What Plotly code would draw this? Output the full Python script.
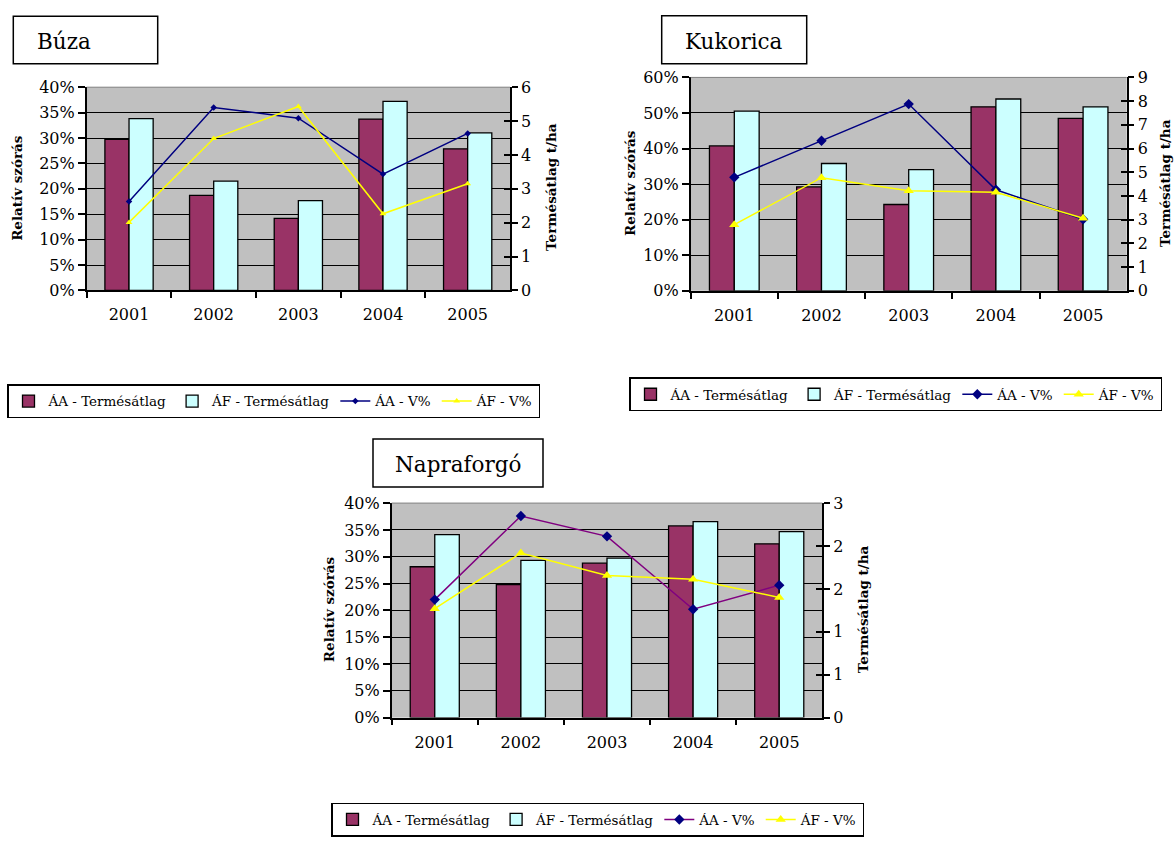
import plotly.graph_objects as go

W, H = 1176, 841

# ---- data -------------------------------------------------------------
years = ["2001", "2002", "2003", "2004", "2005"]

series_names = ["ÁA - Termésátlag", "ÁF - Termésátlag", "ÁA - V%", "ÁF - V%"]

# Búza (wheat): yields in t/ha, relative deviation in %
buza_aa_yield = [4.46, 2.81, 2.13, 5.06, 4.18]
buza_af_yield = [5.07, 3.23, 2.65, 5.58, 4.65]
buza_aa_v = [17.5, 36.0, 33.9, 22.9, 30.9]
buza_af_v = [13.4, 29.9, 36.2, 15.1, 21.0]

# Kukorica (maize)
kuk_aa_yield = [6.11, 4.38, 3.64, 7.76, 7.27]
kuk_af_yield = [7.58, 5.37, 5.11, 8.09, 7.76]
kuk_aa_v = [31.9, 42.2, 52.5, 28.4, 20.1]
kuk_af_v = [18.6, 31.8, 28.1, 27.7, 20.4]

# Napraforgó (sunflower)
nap_aa_yield = [2.11, 1.86, 2.16, 2.68, 2.43]
nap_af_yield = [2.56, 2.20, 2.23, 2.74, 2.60]
nap_aa_v = [22.0, 37.6, 33.8, 20.2, 24.7]
nap_af_v = [20.3, 30.7, 26.5, 25.8, 22.4]

# ---- styling ------------------------------------------------------------
SERIF = "DejaVu Serif"
AA_BAR = "#993366"
AF_BAR = "#CCFFFF"
NAVY = "#000080"
YELLOW = "#FFFF00"
PURPLE = "#800080"
PLOT_BG = "#C0C0C0"


def px(x):
    return x / W


def py(y):
    return 1 - y / H


panels = [
    dict(title="Búza", aa_y=buza_aa_yield, af_y=buza_af_yield,
         aa_v=buza_aa_v, af_v=buza_af_v,
         box=(13.3, 7.3, 157.7, 56), title_x=35, title_anchor="left", title_y=33,
         area=(86.7, 80, 510, 288), pct=(40, 5), t=(6, 1, ""),
         aa_line=NAVY, msize=(5, 6),
         left_title=(17, 183), right_title=(551, 182),
         legend=(7, 384)),
    dict(title="Kukorica", aa_y=kuk_aa_yield, af_y=kuk_af_yield,
         aa_v=kuk_aa_v, af_v=kuk_af_v,
         box=(661.7, 7, 806.7, 56), title_x=734, title_anchor="center", title_y=33,
         area=(690.7, 70, 1126.7, 288.3), pct=(60, 10), t=(9, 1, ""),
         aa_line=NAVY, msize=(8, 9),
         left_title=(630, 178), right_title=(1165, 178),
         legend=(629, 377)),
    dict(title="Napraforgó", aa_y=nap_aa_yield, af_y=nap_af_yield,
         aa_v=nap_aa_v, af_v=nap_af_v,
         box=(373, 440, 543, 489), title_x=458, title_anchor="center", title_y=466,
         area=(391.7, 505.5, 822.3, 725), pct=(40, 5), t=(3, 0.6, ".0f"),
         aa_line=PURPLE, msize=(8, 9),
         left_title=(329, 614), right_title=(863, 614),
         legend=(331, 812)),
]

fig = go.Figure()
layout = dict(shapes=[], annotations=[])

for i, p in enumerate(panels):
    n = i + 1
    xid = "x" if n == 1 else f"x{n}"
    yb = 3 * i + 1          # bars (t/ha, right side)
    yp = 3 * i + 2          # percentages (left side, gridlines)
    yt = 3 * i + 3          # inner tick marks for the right axis
    ybid = "y" if yb == 1 else f"y{yb}"
    ypid, ytid = f"y{yp}", f"y{yt}"
    leg = "legend" if n == 1 else f"legend{n}"

    x0, y0, x1, y1 = p["area"]
    tmax, tstep, tfmt = p["t"]
    pmax, pstep = p["pct"]

    fig.add_trace(go.Bar(x=years, y=p["aa_y"], name=series_names[0],
                         marker=dict(color=AA_BAR, line=dict(color="black", width=1.3)),
                         xaxis=xid, yaxis=ybid, legend=leg))
    fig.add_trace(go.Bar(x=years, y=p["af_y"], name=series_names[1],
                         marker=dict(color=AF_BAR, line=dict(color="black", width=1.3)),
                         xaxis=xid, yaxis=ybid, legend=leg))
    fig.add_trace(go.Scatter(x=years, y=p["aa_v"], name=series_names[2],
                             mode="lines+markers",
                             line=dict(color=p["aa_line"], width=1.5),
                             marker=dict(symbol="diamond", size=p["msize"][0], color=NAVY),
                             xaxis=xid, yaxis=ypid, legend=leg))
    fig.add_trace(go.Scatter(x=years, y=p["af_v"], name=series_names[3],
                             mode="lines+markers",
                             line=dict(color=YELLOW, width=1.5),
                             marker=dict(symbol="triangle-up", size=p["msize"][1], color=YELLOW),
                             xaxis=xid, yaxis=ypid, legend=leg))
    fig.add_trace(go.Scatter(x=years, y=[None] * len(years), mode="lines",
                             showlegend=False, hoverinfo="skip",
                             xaxis=xid, yaxis=ytid))

    tickfont = dict(family=SERIF, size=16, color="black")
    layout["xaxis" if n == 1 else f"xaxis{n}"] = dict(
        domain=[px(x0), px(x1)], anchor=ybid, type="category",
        range=[-0.5, len(years) - 0.5],
        showline=True, linecolor="black", linewidth=1.5,
        ticks="outside", tickson="boundaries", ticklen=6, tickcolor="black",
        tickwidth=1.5, tickfont=tickfont, ticklabelstandoff=9,
        showgrid=False, fixedrange=True)
    layout["yaxis" if yb == 1 else f"yaxis{yb}"] = dict(
        domain=[py(y1), py(y0)], anchor=xid, side="right",
        range=[0, tmax], dtick=tstep, tick0=0, tickformat=tfmt,
        showline=True, linecolor="black", linewidth=1.5,
        ticks="outside", ticklen=6, tickcolor="black", tickwidth=1.5,
        tickfont=tickfont, showgrid=False, zeroline=False, fixedrange=True)
    layout[f"yaxis{yp}"] = dict(
        overlaying=ybid, anchor=xid, side="left",
        range=[0, pmax], dtick=pstep, tick0=0, ticksuffix="%",
        showline=True, linecolor="black", linewidth=1.5,
        ticks="outside", ticklen=7, tickcolor="black", tickwidth=1.5,
        tickfont=tickfont, showgrid=True, gridcolor="black", gridwidth=1.2,
        zeroline=False, fixedrange=True)
    layout[f"yaxis{yt}"] = dict(
        overlaying=ybid, anchor=xid, side="right",
        range=[0, tmax], dtick=tstep, tick0=0,
        showline=False, ticks="inside", ticklen=6, tickcolor="black",
        tickwidth=1.5, showticklabels=False, showgrid=False,
        zeroline=False, fixedrange=True)

    # thin grey top edge of the plot area
    layout["shapes"].append(dict(
        type="line", xref=f"{xid} domain", yref=f"{ybid} domain",
        x0=0, x1=1, y0=1, y1=1, line=dict(color="#808080", width=1)))

    # boxed chart title
    bx0, by0, bx1, by1 = p["box"]
    layout["shapes"].append(dict(
        type="rect", xref="paper", yref="paper",
        x0=px(bx0), x1=px(bx1), y0=py(by1), y1=py(by0),
        line=dict(color="black", width=1.5), fillcolor="white"))
    layout["annotations"].append(dict(
        text=p["title"], xref="paper", yref="paper",
        x=px(p["title_x"]), y=py(p["title_y"]),
        xanchor=p["title_anchor"], yanchor="middle", showarrow=False,
        font=dict(family=SERIF, size=21.5, color="black")))

    # axis titles
    for txt, (ax, ay) in (("Relatív szórás", p["left_title"]),
                          ("Termésátlag t/ha", p["right_title"])):
        layout["annotations"].append(dict(
            text=f"<b>{txt}</b>", xref="paper", yref="paper",
            x=px(ax), y=py(ay), xanchor="center", yanchor="middle",
            textangle=-90, showarrow=False,
            font=dict(family=SERIF, size=13.5, color="black")))

    lx, ly = p["legend"]
    layout[leg] = dict(
        x=px(lx), y=py(ly), xanchor="left", yanchor="top",
        orientation="h", bgcolor="white", bordercolor="black", borderwidth=1.5,
        font=dict(family=SERIF, size=13.5, color="black"),
        itemwidth=30, traceorder="normal", tracegroupgap=0)

fig.update_layout(
    width=W, height=H,
    margin=dict(l=0, r=0, t=0, b=0),
    paper_bgcolor="white", plot_bgcolor=PLOT_BG,
    barmode="group", bargap=0.43, bargroupgap=0,
    showlegend=True, hovermode=False,
    **layout)

fig.write_html("out.html")
